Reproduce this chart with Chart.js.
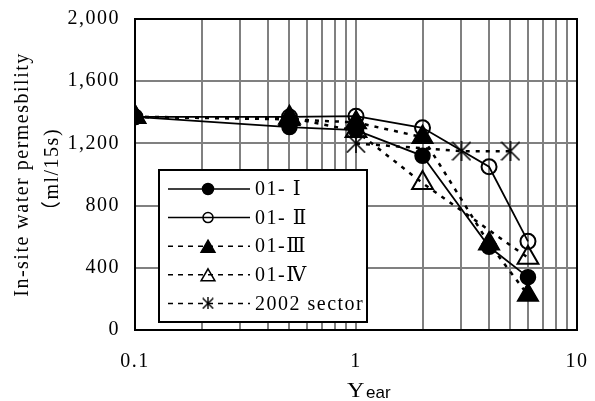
<!DOCTYPE html>
<html>
<head>
<meta charset="utf-8">
<script src="https://cdn.jsdelivr.net/npm/chart.js@4/dist/chart.umd.min.js"></script>
<style>
  body { margin: 0; background: #fff; }
</style>
</head>
<body>
<canvas id="myChart" width="595" height="401"></canvas>
<script>
// values
const years = [0.1, 0.5, 1, 2, 4, 6];
const perm01I = [1370, 1305, 1285, 1120, 535, 340];
const perm01II = [1370, 1370, 1375, 1300, 1050, 570];
const perm01III = [1370, 1355, 1335, 1240, 555, 225];
const years01IV = [0.1, 0.5, 1, 2, 6];
const perm01IV = [1370, 1365, 1280, 945, 465];
const years2002 = [1, 3, 5];
const perm2002 = [1200, 1150, 1150];
const seriesNames = ['01- Ⅰ', '01- Ⅱ', '01-Ⅲ', '01-Ⅳ', '2002 sector'];
const xTickValues = [0.1, 0.2, 0.3, 0.4, 0.5, 0.6, 0.7, 0.8, 0.9, 1, 2, 3, 4, 5, 6, 7, 8, 9, 10];

const serif = "'Liberation Serif', 'DejaVu Serif', 'Noto Sans CJK JP', serif";

function makeStar(size, lw) {
    const c = document.createElement('canvas');
    c.width = size;
    c.height = size;
    const g = c.getContext('2d');
    g.strokeStyle = '#000';
    g.lineWidth = lw;
    const p = lw / 2;
    g.beginPath();
    g.moveTo(p, p); g.lineTo(size - p, size - p);
    g.moveTo(size - p, p); g.lineTo(p, size - p);
    g.moveTo(size / 2, 0); g.lineTo(size / 2, size);
    g.stroke();
    return c;
}
const bigStar = makeStar(20, 1.6);
const smallStar = makeStar(12, 1.4);

function pts(xs, ys) {
    return xs.map((x, i) => ({ x: x, y: ys[i] }));
}

const dotted = [4, 6];
const legendStyles = ['circle', 'circle', 'triangle', 'triangle', smallStar];
const legendRadii = [5.5, 5, 8, 8, 6];

const legendBox = {
    id: 'legendBox',
    beforeDraw(chart) {
        chart.ctx.letterSpacing = '1.5px';
    },
    afterDraw(chart) {
        const { ctx, chartArea } = chart;
        ctx.save();
        // frame
        ctx.lineWidth = 2;
        ctx.strokeStyle = '#000';
        ctx.strokeRect(chartArea.left, chartArea.top, chartArea.right - chartArea.left, chartArea.bottom - chartArea.top);

        // legend
        const left = chartArea.left + 24, top = chartArea.top + 151, w = 208, h = 152;
        ctx.fillStyle = '#fff';
        ctx.fillRect(left, top, w, h);
        ctx.strokeRect(left, top, w, h);
        chart.data.datasets.forEach((ds, i) => {
            const y = top + 19 + i * 28.6;
            ctx.strokeStyle = '#000';
            ctx.lineWidth = 1.5;
            ctx.setLineDash(ds.borderDash ? [5, 5] : []);
            ctx.beginPath();
            ctx.moveTo(left + 9, y);
            ctx.lineTo(left + 91, y);
            ctx.stroke();
            ctx.setLineDash([]);
            ctx.fillStyle = ds.pointBackgroundColor;
            Chart.helpers.drawPoint(ctx, { pointStyle: legendStyles[i], radius: legendRadii[i], borderWidth: 1.5 }, left + 49, y + (legendStyles[i] === 'triangle' ? 2 : 0));
            ctx.fillStyle = '#000';
            ctx.font = '20px ' + serif;
            ctx.textBaseline = 'middle';
            ctx.textAlign = 'left';
            ctx.fillText(ds.label, left + 96, y + 1);
        });

        // x title: serif "Y" followed by a smaller sans "ear"
        ctx.letterSpacing = '0px';
        ctx.textBaseline = 'alphabetic';
        ctx.font = '21px ' + serif;
        ctx.save();
        ctx.translate(347, 397);
        ctx.scale(1.15, 1);
        ctx.fillText('Y', 0, 0);
        ctx.restore();
        ctx.font = '17px "Liberation Sans", sans-serif';
        ctx.fillText('ear', 366, 398);
        ctx.restore();
    }
};

const chart = new Chart(document.getElementById('myChart'), {
    type: 'line',
    data: {
        datasets: [
            {
                label: seriesNames[0],
                data: pts(years, perm01I),
                borderColor: '#000',
                borderWidth: 1.75,
                pointStyle: 'circle',
                pointRadius: 7.5,
                pointBorderWidth: 1.5,
                pointBackgroundColor: '#000',
                pointBorderColor: '#000',
                order: 5,
            },
            {
                label: seriesNames[1],
                data: pts(years, perm01II),
                borderColor: '#000',
                borderWidth: 1.75,
                pointStyle: 'circle',
                pointRadius: 7.5,
                pointBorderWidth: 2,
                pointBackgroundColor: 'rgba(0,0,0,0)',
                pointBorderColor: '#000',
                order: 4,
            },
            {
                label: seriesNames[2],
                data: pts(years, perm01III),
                borderColor: '#000',
                borderWidth: 2.5,
                borderDash: dotted,
                pointStyle: 'triangle',
                pointRadius: 12,
                pointBorderWidth: 1.5,
                pointBackgroundColor: '#000',
                pointBorderColor: '#000',
                order: 3,
            },
            {
                label: seriesNames[3],
                data: pts(years01IV, perm01IV),
                borderColor: '#000',
                borderWidth: 2.5,
                borderDash: dotted,
                pointStyle: 'triangle',
                pointRadius: 12,
                pointBorderWidth: 2,
                pointBackgroundColor: 'rgba(0,0,0,0)',
                pointBorderColor: '#000',
                order: 2,
            },
            {
                label: seriesNames[4],
                data: pts(years2002, perm2002),
                borderColor: '#000',
                borderWidth: 2.5,
                borderDash: dotted,
                pointStyle: bigStar,
                pointRadius: 10,
                pointBackgroundColor: 'rgba(0,0,0,0)',
                pointBorderColor: '#000',
                order: 1,
            },
        ],
    },
    options: {
        responsive: false,
        animation: false,
        events: [],
        layout: {
            padding: { top: 19, right: 18, left: 0, bottom: 0 }
        },
        plugins: {
            legend: { display: false },
            tooltip: { enabled: false }
        },
        scales: {
            x: {
                type: 'logarithmic',
                min: 0.1,
                max: 10,
                afterBuildTicks: (scale) => {
                    scale.ticks = xTickValues.map(v => ({ value: v }));
                },
                afterFit: (scale) => {
                    scale.height = 71;
                    scale.paddingLeft = 0;
                    scale.paddingRight = 0;
                },
                grid: {
                    color: '#808080',
                    lineWidth: 2,
                    drawTicks: false
                },
                border: { color: '#000', width: 2 },
                ticks: {
                    autoSkip: false,
                    maxRotation: 0,
                    padding: 20,
                    color: '#000',
                    font: { family: serif, size: 20 },
                    callback: (v) => {
                        const l = Math.log10(v);
                        return Math.abs(l - Math.round(l)) < 1e-6 ? String(v) : '';
                    }
                }
            },
            y: {
                min: 0,
                max: 2000,
                afterFit: (scale) => {
                    scale.width = 135;
                    scale.paddingTop = 0;
                    scale.paddingBottom = 0;
                },
                grid: {
                    color: '#808080',
                    lineWidth: 2,
                    drawTicks: false
                },
                border: { color: '#000', width: 2 },
                ticks: {
                    stepSize: 400,
                    padding: 15,
                    color: '#000',
                    font: { family: serif, size: 20 },
                    callback: (v) => v.toLocaleString('en-US')
                },
                title: {
                    display: true,
                    text: ['In-site water permesbility', '（ml/15s)'],
                    color: '#000',
                    padding: { top: 8, bottom: 0 },
                    font: { family: serif, size: 20, lineHeight: 1.5 }
                }
            }
        }
    },
    plugins: [legendBox]
});
</script>
</body>
</html>
